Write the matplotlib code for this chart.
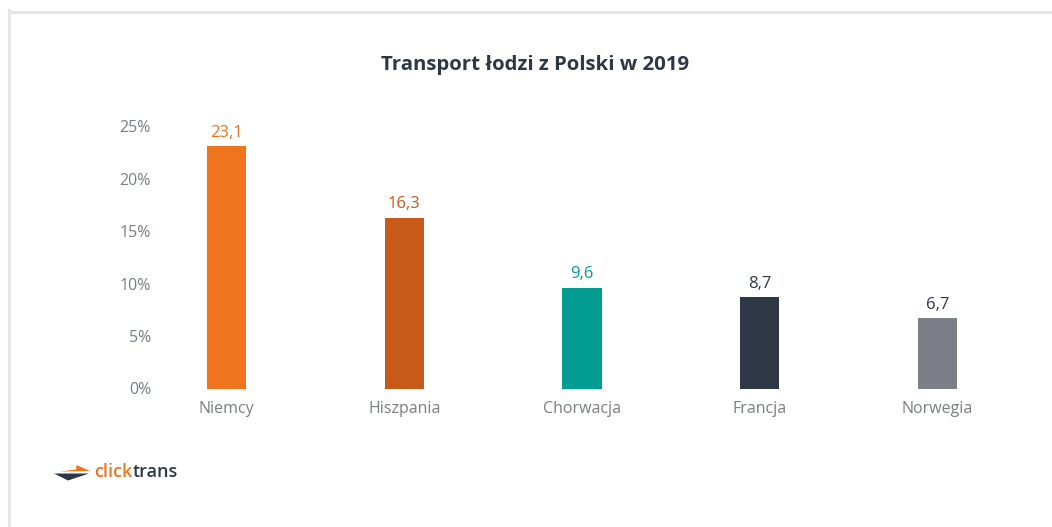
import matplotlib
matplotlib.use("Agg")
import matplotlib.pyplot as plt
from matplotlib.patches import Polygon
from matplotlib.lines import Line2D

categories = ["Niemcy", "Hiszpania", "Chorwacja", "Francja", "Norwegia"]
values = [23.1, 16.3, 9.6, 8.7, 6.7]
value_labels = ["23,1", "16,3", "9,6", "8,7", "6,7"]
bar_colors = ["#EE741E", "#C75A19", "#039C92", "#2E3746", "#7C7F87"]
label_colors = ["#EE741E", "#C75A19", "#039C92", "#2E3746", "#2E3746"]
yticks = [0, 5, 10, 15, 20, 25]
ytick_labels = ["0%", "5%", "10%", "15%", "20%", "25%"]
title = "Transport łodzi z Polski w 2019"

W, H = 1052, 527
fig = plt.figure(figsize=(W / 100, H / 100), dpi=100)
fig.patch.set_facecolor("white")

def fx(px):
    return px / W

def fy(py):
    return (H - py) / H

# border frame
fig.add_artist(Line2D([fx(8.5), fx(8.5)], [fy(10), 0], transform=fig.transFigure,
                      color="#e6e6e6", lw=2.2))
fig.add_artist(Line2D([fx(8.5), 1], [fy(11.5), fy(11.5)], transform=fig.transFigure,
                      color="#e6e6e6", lw=2.2))

font = "Open Sans"
ax_left, ax_right = 151, 1026.4
ax_top, ax_bottom = 126.5, 388.5
ax = fig.add_axes([fx(ax_left), fy(ax_bottom), fx(ax_right - ax_left), (ax_bottom - ax_top) / H])
x = list(range(len(categories)))
ax.bar(x, values, width=0.22, color=bar_colors, zorder=2)
for xi, v, lab, c in zip(x, values, value_labels, label_colors):
    ax.annotate(lab, (xi, v), xytext=(0, 4), textcoords="offset points",
                ha="center", va="bottom", color=c, fontsize=12, family=font)

ax.set_xlim(-0.425, 4.5)
ax.set_ylim(0, 25)
ax.set_yticks(yticks)
ax.set_yticklabels(ytick_labels)
ax.set_xticks(x)
ax.set_xticklabels(categories)
for s in ax.spines.values():
    s.set_visible(False)
ax.tick_params(axis="both", length=0, labelcolor="#7a7d85", labelsize=11.5)
ax.tick_params(axis="y", pad=0)
ax.tick_params(axis="x", pad=9)
for t in ax.get_xticklabels() + ax.get_yticklabels():
    t.set_family(font)

fig.text(fx(535), fy(65), title, ha="center", va="center", fontsize=14.7,
         fontweight="bold", color="#2E3746", family=font)

# logo
def poly(pts, color):
    fig.add_artist(Polygon([(fx(a), fy(b)) for a, b in pts], closed=True,
                           transform=fig.transFigure, facecolor=color, edgecolor="none"))

poly([(60, 471.5), (76, 469.5), (76.5, 465), (90, 471)], "#EE741E")
poly([(54, 473.5), (89, 473.5), (68, 480.5)], "#2E3746")
t1 = fig.text(fx(94), fy(472), "click", ha="left", va="center", fontsize=13,
              fontweight="semibold", color="#EE741E", family=font)
fig.canvas.draw()
bb = t1.get_window_extent()
fig.text(bb.x1 / W, fy(472), "trans", ha="left", va="center", fontsize=13,
         fontweight="semibold", color="#2E3746", family=font)

fig.savefig("out.png", dpi=100, facecolor="white")
